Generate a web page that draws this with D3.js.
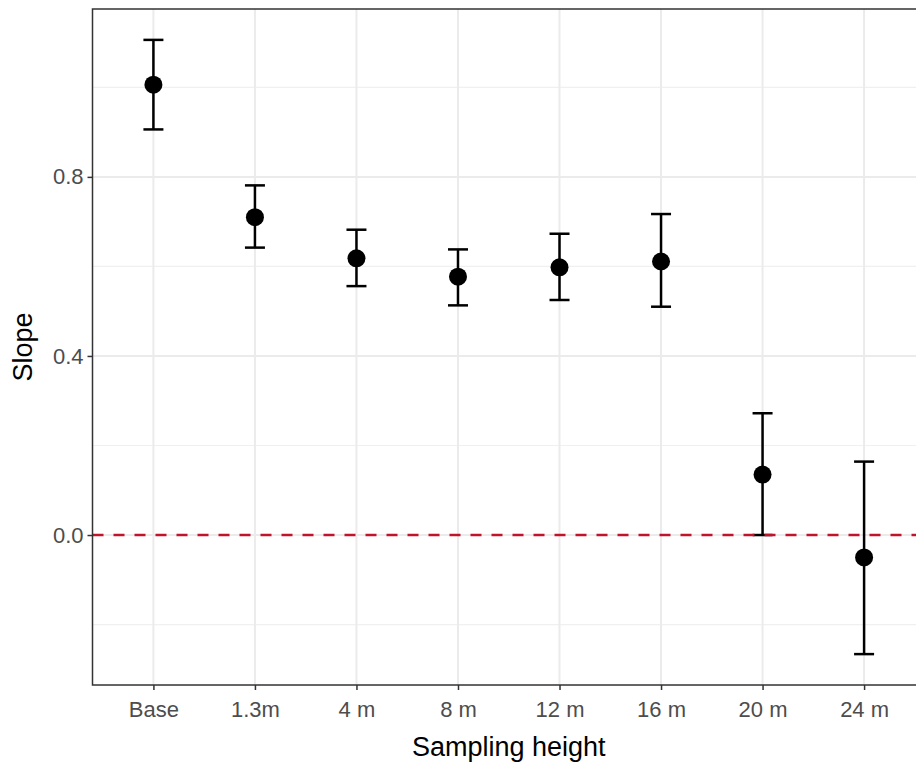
<!DOCTYPE html>
<html>
<head>
<meta charset="utf-8">
<script src="https://cdn.jsdelivr.net/npm/d3@7"></script>
<style>
  body { margin: 0; background: #fff; }
  text { font-family: "Liberation Sans", Arial, sans-serif; }
</style>
</head>
<body>
<div id="chart"></div>
<script>
// Data
const heights = ["Base", "1.3m", "4 m", "8 m", "12 m", "16 m", "20 m", "24 m"]
const slope = [1.006, 0.710, 0.618, 0.577, 0.598, 0.611, 0.135, -0.050]
const lower = [0.906, 0.642, 0.556, 0.513, 0.525, 0.510, 0.000, -0.266]
const upper = [1.106, 0.781, 0.682, 0.638, 0.673, 0.717, 0.272, 0.164]
const yTicks = [0, 0.4, 0.8]
const yMinor = [-0.2, 0.2, 0.6, 1.0]

const data = heights.map((h, i) => ({h: h, y: slope[i], lo: lower[i], hi: upper[i]}))

// Chart dimensions (panel runs past the right edge like the reference)
const W = 916, H = 765
const margin = {top: 9, left: 92.5}
const panelRight = 925
const panelBottom = 685

const svg = d3.select("#chart").append("svg")
    .attr("width", W)
    .attr("height", H)

const x = d3.scalePoint()
    .domain(heights)
    .range([margin.left, panelRight])
    .padding(0.6)

const y = d3.scaleLinear()
    .domain([-0.335, 1.175])
    .range([panelBottom, margin.top])

// Grid lines
const grid = svg.append("g")
grid.selectAll(".minor")
    .data(yMinor)
    .join("line")
    .attr("x1", margin.left).attr("x2", panelRight)
    .attr("y1", d => y(d)).attr("y2", d => y(d))
    .attr("stroke", "#f0f0f0")
    .attr("stroke-width", 1.2)
grid.selectAll(".major-y")
    .data(yTicks)
    .join("line")
    .attr("x1", margin.left).attr("x2", panelRight)
    .attr("y1", d => y(d)).attr("y2", d => y(d))
    .attr("stroke", "#ebebeb")
    .attr("stroke-width", 2)
grid.selectAll(".major-x")
    .data(heights)
    .join("line")
    .attr("x1", d => x(d)).attr("x2", d => x(d))
    .attr("y1", margin.top).attr("y2", panelBottom)
    .attr("stroke", "#ebebeb")
    .attr("stroke-width", 2)

// Error bars
const eb = svg.append("g")
    .attr("stroke", "#000")
    .attr("stroke-width", 2.5)
eb.selectAll(".stem")
    .data(data)
    .join("line")
    .attr("x1", d => x(d.h)).attr("x2", d => x(d.h))
    .attr("y1", d => y(d.lo)).attr("y2", d => y(d.hi))
eb.selectAll(".cap-hi")
    .data(data)
    .join("line")
    .attr("x1", d => x(d.h) - 10).attr("x2", d => x(d.h) + 10)
    .attr("y1", d => y(d.hi)).attr("y2", d => y(d.hi))
eb.selectAll(".cap-lo")
    .data(data)
    .join("line")
    .attr("x1", d => x(d.h) - 10).attr("x2", d => x(d.h) + 10)
    .attr("y1", d => y(d.lo)).attr("y2", d => y(d.lo))

// Points
svg.append("g").selectAll("circle")
    .data(data)
    .join("circle")
    .attr("cx", d => x(d.h))
    .attr("cy", d => y(d.y))
    .attr("r", 9)
    .attr("fill", "#000")

// Zero reference line
svg.append("line")
    .attr("x1", margin.left).attr("x2", panelRight)
    .attr("y1", y(0)).attr("y2", y(0))
    .attr("stroke", "#c0142c")
    .attr("stroke-width", 2.5)
    .attr("stroke-dasharray", "11,10")

// Panel border
svg.append("rect")
    .attr("x", margin.left).attr("y", margin.top)
    .attr("width", panelRight - margin.left)
    .attr("height", panelBottom - margin.top)
    .attr("fill", "none")
    .attr("stroke", "#333")
    .attr("stroke-width", 1.5)

// Axes
const yAxis = svg.append("g")
    .attr("transform", "translate(" + margin.left + ",0)")
    .call(d3.axisLeft(y).tickValues(yTicks).tickSize(5).tickPadding(4).tickFormat(d3.format(".1f")))
yAxis.select(".domain").remove()
yAxis.selectAll(".tick line").attr("stroke", "#333").attr("stroke-width", 1.5)
yAxis.selectAll(".tick text")
    .attr("fill", "#4d4d4d")
    .attr("font-size", 22)
    .style("font-family", "Liberation Sans, Arial, sans-serif")

const xAxis = svg.append("g")
    .attr("transform", "translate(0," + panelBottom + ")")
    .call(d3.axisBottom(x).tickSize(5).tickPadding(11))
xAxis.select(".domain").remove()
xAxis.selectAll(".tick line").attr("stroke", "#333").attr("stroke-width", 1.5)
xAxis.selectAll(".tick text")
    .attr("fill", "#4d4d4d")
    .attr("font-size", 22)
    .style("font-family", "Liberation Sans, Arial, sans-serif")

// Axis titles
svg.append("text")
    .attr("x", (margin.left + panelRight) / 2)
    .attr("y", 756)
    .attr("text-anchor", "middle")
    .attr("font-size", 27)
    .attr("fill", "#000")
    .text("Sampling height")

svg.append("text")
    .attr("transform", "translate(32," + (margin.top + panelBottom) / 2 + ") rotate(-90)")
    .attr("text-anchor", "middle")
    .attr("font-size", 27)
    .attr("fill", "#000")
    .text("Slope")
</script>
</body>
</html>
